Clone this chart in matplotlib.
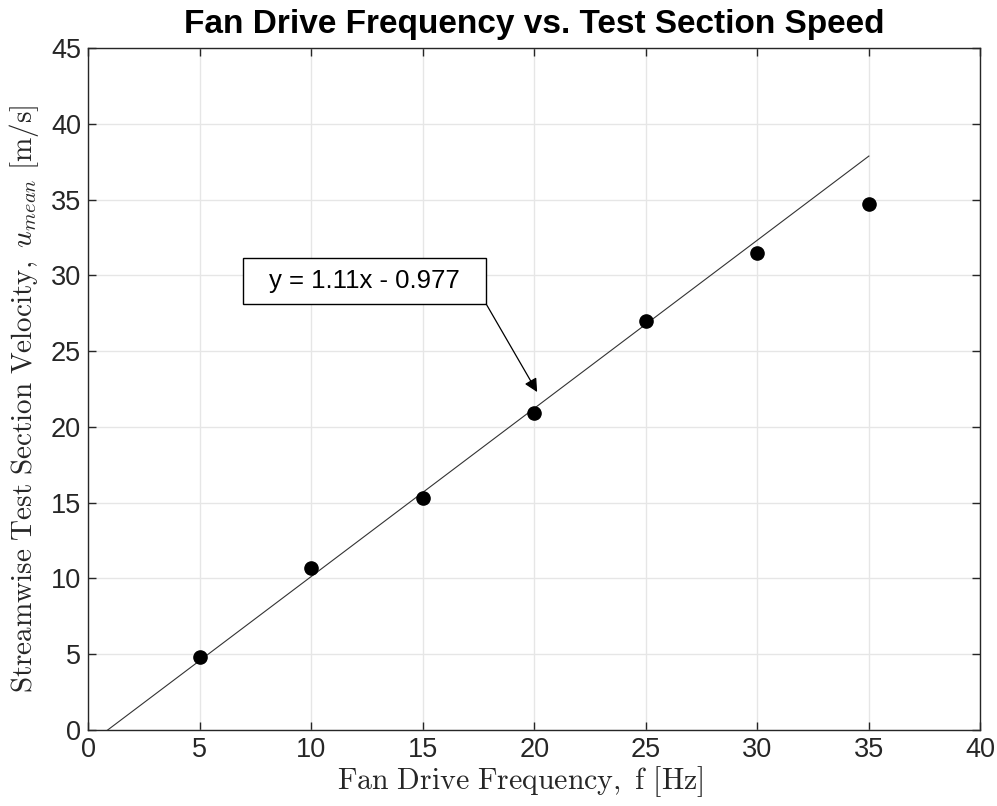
import numpy as np
import matplotlib
matplotlib.use('Agg')
import matplotlib.pyplot as plt
from matplotlib.patches import Rectangle

# measured data
freq = [5, 10, 15, 20, 25, 30, 35]
speed = [4.8, 10.7, 15.3, 20.9, 27.0, 31.5, 34.7]
slope = 1.11
intercept = -0.977
fit_x = [0, 35]
fit_label = 'y = 1.11x - 0.977'

plt.rcParams['font.family'] = ['Liberation Sans', 'DejaVu Sans']
plt.rcParams['mathtext.fontset'] = 'cm'

fig = plt.figure(figsize=(9.97, 8.06), dpi=100)
ax = fig.add_axes([0.0883, 0.0943, 0.8951, 0.8461])

fx = np.array(fit_x, dtype=float)
ax.plot(fx, slope*fx + intercept, color='#333333', linewidth=0.8, zorder=3)
ax.plot(freq, speed, 'o', color='black', markersize=9.5, zorder=4)

ax.set_xlim(0, 40)
ax.set_ylim(0, 45)
ax.set_xticks(np.arange(0, 41, 5))
ax.set_yticks(np.arange(0, 46, 5))
ax.grid(True, color='#e6e6e6', linewidth=1)
ax.set_axisbelow(True)
ax.tick_params(direction='in', top=True, right=True, labelsize=19.5,
               colors='#262626', length=6, width=1, pad=5)
for s in ax.spines.values():
    s.set_color('#262626')
    s.set_linewidth(1)

ax.set_title('Fan Drive Frequency vs. Test Section Speed', fontsize=24,
             fontweight='bold', pad=11)
ax.set_xlabel(r'$\mathrm{Fan\ Drive\ Frequency,\ f\ [Hz]}$', fontsize=21.5,
              color='#262626')
ax.xaxis.set_label_coords(0.484, -0.05)
ax.set_ylabel(r'$\mathrm{Streamwise\ Test\ Section\ Velocity,}\ u_{mean}\ \mathrm{[m/s]}$',
              fontsize=21, color='#262626')
ax.yaxis.set_label_coords(-0.053, 0.485)

# text box of the fit
bx0, bx1, by0, by1 = 6.95, 17.85, 28.1, 31.13
ax.add_patch(Rectangle((bx0, by0), bx1 - bx0, by1 - by0, fc='white',
                       ec='black', lw=1, zorder=5))
ax.text((bx0 + bx1) / 2, (by0 + by1) / 2, fit_label, fontsize=18.5,
        ha='center', va='center', zorder=6)
ax.annotate('', xy=(20.13, 22.3), xytext=(bx1, by0),
            arrowprops=dict(arrowstyle='-|>', color='black', lw=0.9,
                            mutation_scale=20, shrinkA=0, shrinkB=0),
            zorder=5)

fig.savefig('out.png', dpi=100)
